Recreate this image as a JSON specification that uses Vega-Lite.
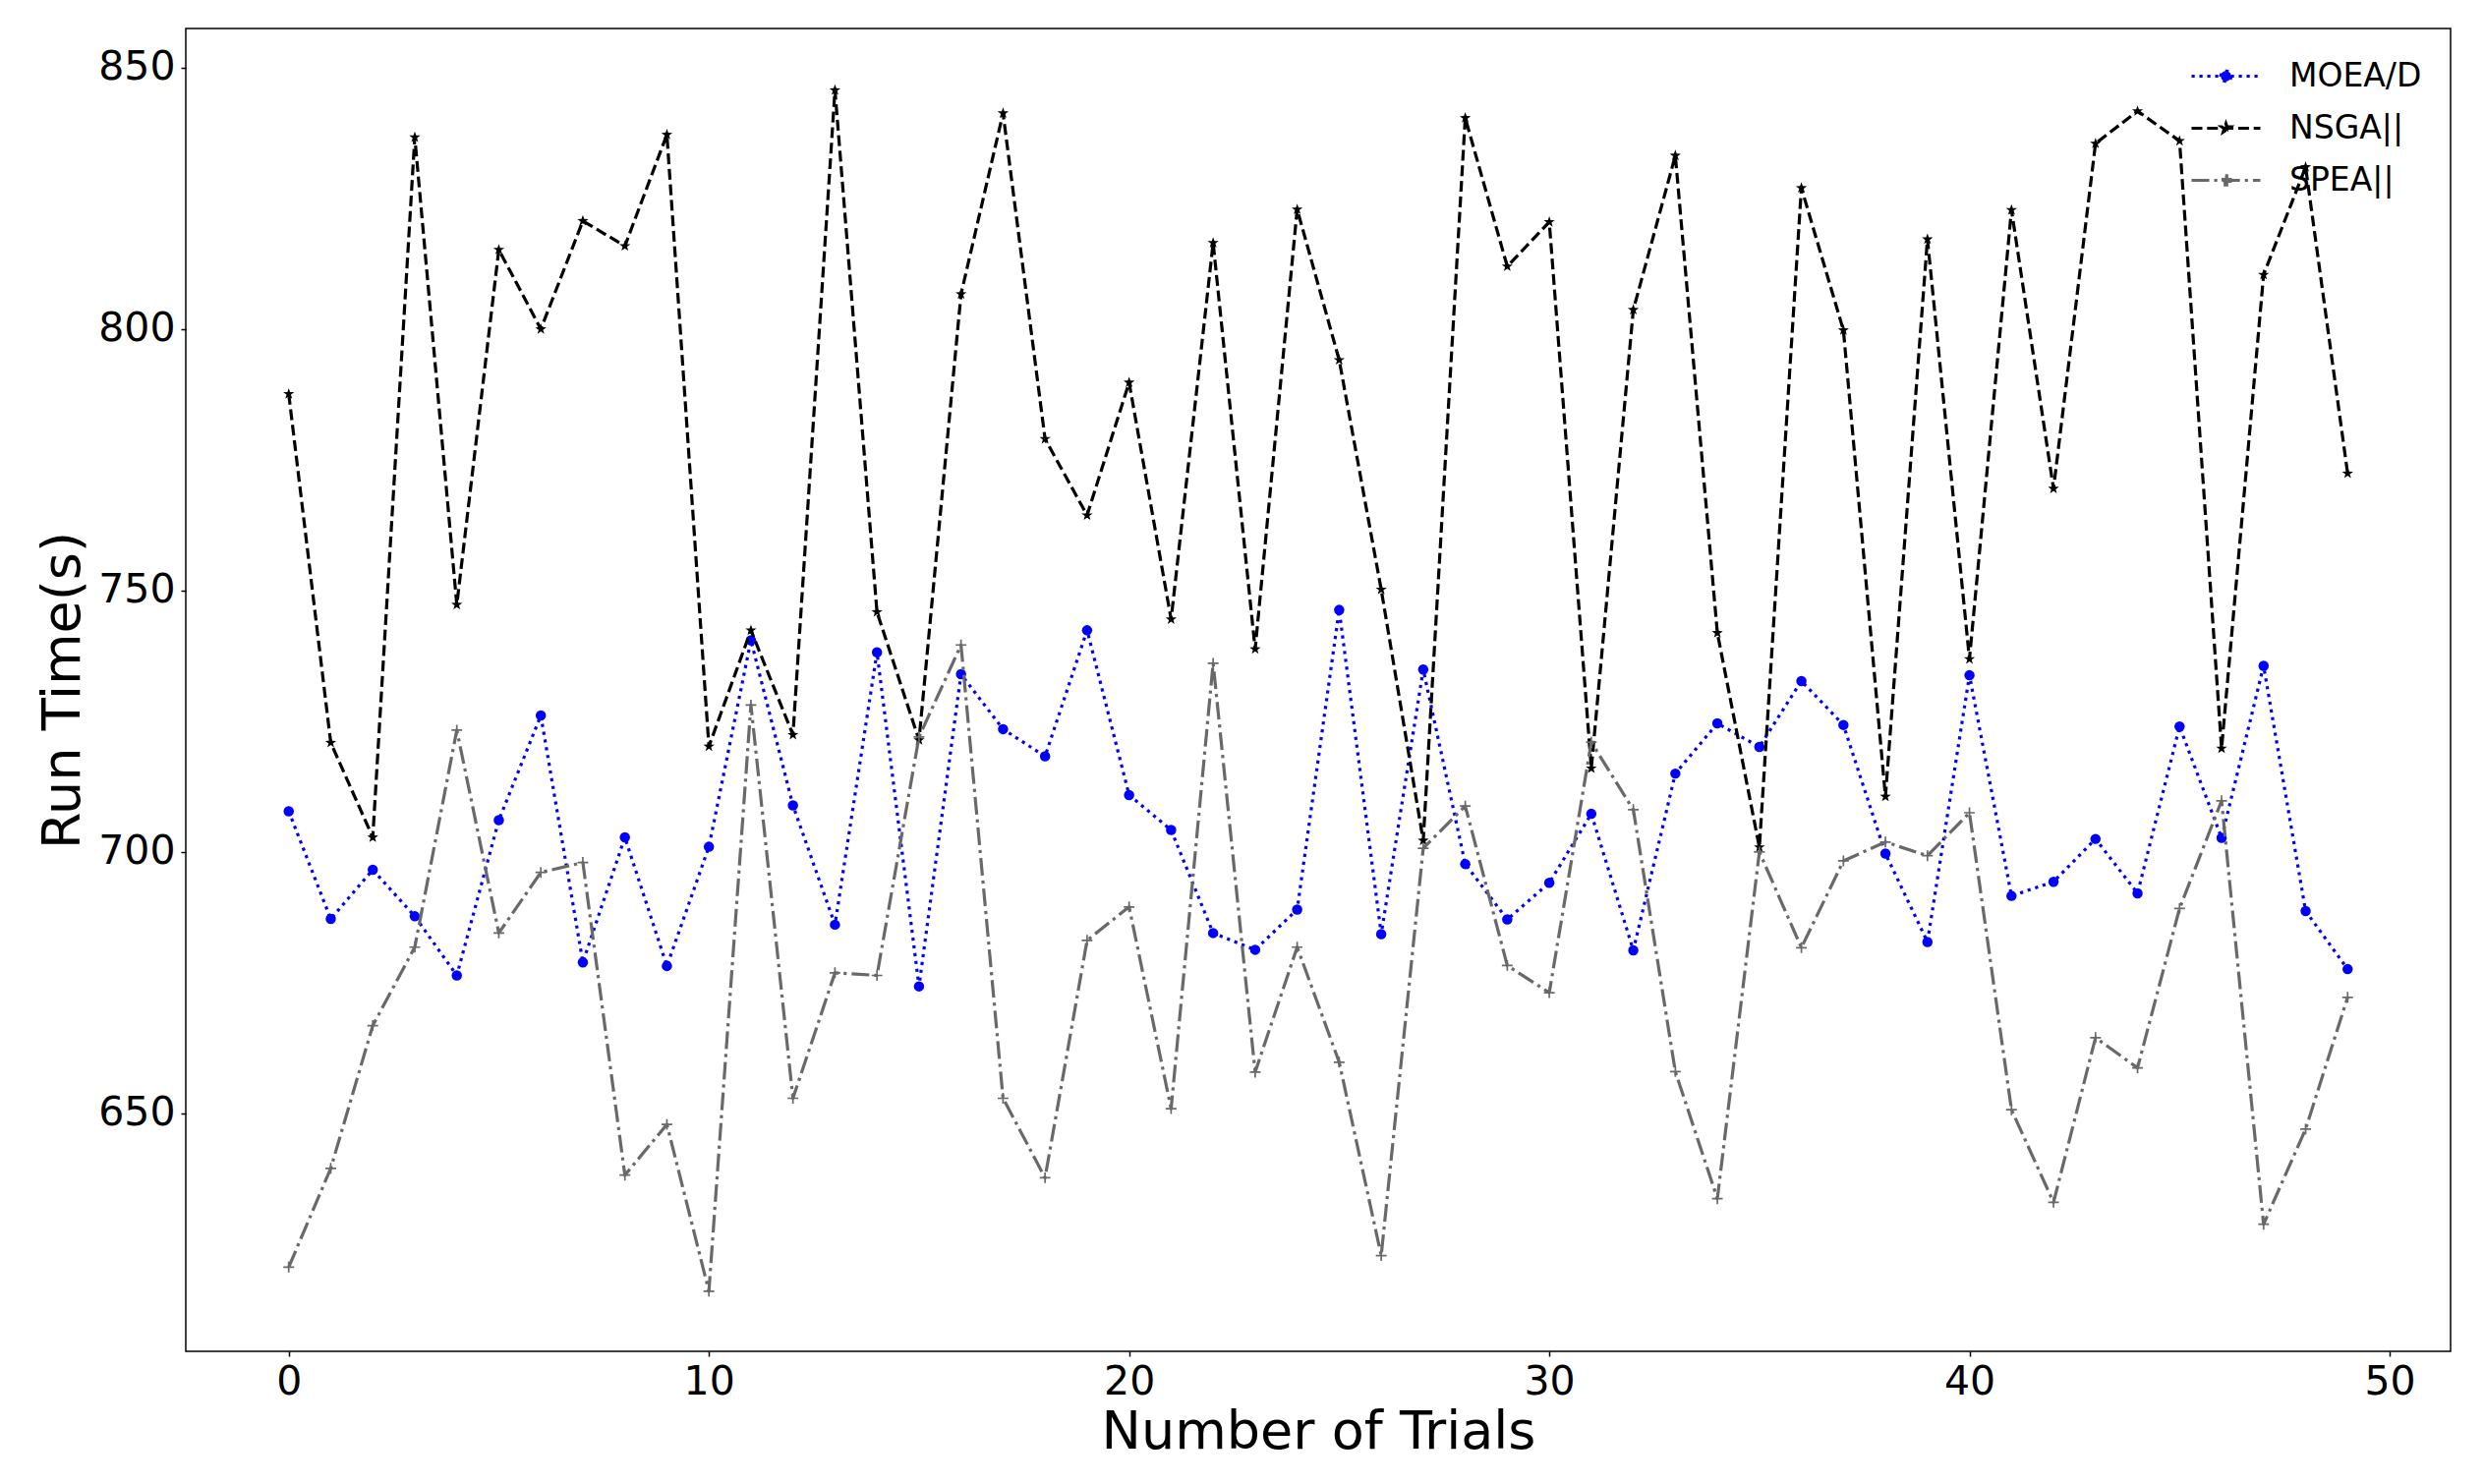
{
  "$schema": "https://vega.github.io/schema/vega-lite/v6.json",
  "width": 2304,
  "height": 1346,
  "autosize": "none",
  "padding": {"left": 189, "top": 29, "right": 34, "bottom": 135},
  "background": "white",
  "data": {"values": [
    {"trial":0,"series":"MOEA/D","time":707.8},{"trial":1,"series":"MOEA/D","time":687.2},{"trial":2,"series":"MOEA/D","time":696.6},{"trial":3,"series":"MOEA/D","time":687.7},{"trial":4,"series":"MOEA/D","time":676.4},
    {"trial":5,"series":"MOEA/D","time":706.1},{"trial":6,"series":"MOEA/D","time":726.1},{"trial":7,"series":"MOEA/D","time":678.9},{"trial":8,"series":"MOEA/D","time":702.8},{"trial":9,"series":"MOEA/D","time":678.2},
    {"trial":10,"series":"MOEA/D","time":701.0},{"trial":11,"series":"MOEA/D","time":740.5},{"trial":12,"series":"MOEA/D","time":708.9},{"trial":13,"series":"MOEA/D","time":686.1},{"trial":14,"series":"MOEA/D","time":738.2},
    {"trial":15,"series":"MOEA/D","time":674.3},{"trial":16,"series":"MOEA/D","time":734.0},{"trial":17,"series":"MOEA/D","time":723.5},{"trial":18,"series":"MOEA/D","time":718.3},{"trial":19,"series":"MOEA/D","time":742.4},
    {"trial":20,"series":"MOEA/D","time":710.9},{"trial":21,"series":"MOEA/D","time":704.2},{"trial":22,"series":"MOEA/D","time":684.5},{"trial":23,"series":"MOEA/D","time":681.3},{"trial":24,"series":"MOEA/D","time":689.0},
    {"trial":25,"series":"MOEA/D","time":746.3},{"trial":26,"series":"MOEA/D","time":684.3},{"trial":27,"series":"MOEA/D","time":734.9},{"trial":28,"series":"MOEA/D","time":697.7},{"trial":29,"series":"MOEA/D","time":687.1},
    {"trial":30,"series":"MOEA/D","time":694.1},{"trial":31,"series":"MOEA/D","time":707.3},{"trial":32,"series":"MOEA/D","time":681.2},{"trial":33,"series":"MOEA/D","time":715.0},{"trial":34,"series":"MOEA/D","time":724.6},
    {"trial":35,"series":"MOEA/D","time":720.1},{"trial":36,"series":"MOEA/D","time":732.7},{"trial":37,"series":"MOEA/D","time":724.3},{"trial":38,"series":"MOEA/D","time":699.7},{"trial":39,"series":"MOEA/D","time":682.8},
    {"trial":40,"series":"MOEA/D","time":733.8},{"trial":41,"series":"MOEA/D","time":691.6},{"trial":42,"series":"MOEA/D","time":694.3},{"trial":43,"series":"MOEA/D","time":702.5},{"trial":44,"series":"MOEA/D","time":692.1},
    {"trial":45,"series":"MOEA/D","time":724.0},{"trial":46,"series":"MOEA/D","time":702.7},{"trial":47,"series":"MOEA/D","time":735.6},{"trial":48,"series":"MOEA/D","time":688.7},{"trial":49,"series":"MOEA/D","time":677.6},
    {"trial":0,"series":"NSGA||","time":787.6},{"trial":1,"series":"NSGA||","time":720.9},{"trial":2,"series":"NSGA||","time":702.8},{"trial":3,"series":"NSGA||","time":836.7},{"trial":4,"series":"NSGA||","time":747.3},
    {"trial":5,"series":"NSGA||","time":815.2},{"trial":6,"series":"NSGA||","time":800.0},{"trial":7,"series":"NSGA||","time":820.7},{"trial":8,"series":"NSGA||","time":815.9},{"trial":9,"series":"NSGA||","time":837.2},
    {"trial":10,"series":"NSGA||","time":720.2},{"trial":11,"series":"NSGA||","time":742.4},{"trial":12,"series":"NSGA||","time":722.4},{"trial":13,"series":"NSGA||","time":845.7},{"trial":14,"series":"NSGA||","time":745.9},
    {"trial":15,"series":"NSGA||","time":721.4},{"trial":16,"series":"NSGA||","time":806.7},{"trial":17,"series":"NSGA||","time":841.3},{"trial":18,"series":"NSGA||","time":779.0},{"trial":19,"series":"NSGA||","time":764.4},
    {"trial":20,"series":"NSGA||","time":789.8},{"trial":21,"series":"NSGA||","time":744.5},{"trial":22,"series":"NSGA||","time":816.5},{"trial":23,"series":"NSGA||","time":738.8},{"trial":24,"series":"NSGA||","time":822.9},
    {"trial":25,"series":"NSGA||","time":794.1},{"trial":26,"series":"NSGA||","time":750.2},{"trial":27,"series":"NSGA||","time":702.2},{"trial":28,"series":"NSGA||","time":840.4},{"trial":29,"series":"NSGA||","time":812.0},
    {"trial":30,"series":"NSGA||","time":820.5},{"trial":31,"series":"NSGA||","time":716.0},{"trial":32,"series":"NSGA||","time":803.7},{"trial":33,"series":"NSGA||","time":833.2},{"trial":34,"series":"NSGA||","time":741.9},
    {"trial":35,"series":"NSGA||","time":700.9},{"trial":36,"series":"NSGA||","time":827.0},{"trial":37,"series":"NSGA||","time":799.8},{"trial":38,"series":"NSGA||","time":710.6},{"trial":39,"series":"NSGA||","time":817.2},
    {"trial":40,"series":"NSGA||","time":736.9},{"trial":41,"series":"NSGA||","time":822.8},{"trial":42,"series":"NSGA||","time":769.5},{"trial":43,"series":"NSGA||","time":835.5},{"trial":44,"series":"NSGA||","time":841.7},
    {"trial":45,"series":"NSGA||","time":836.0},{"trial":46,"series":"NSGA||","time":719.8},{"trial":47,"series":"NSGA||","time":810.4},{"trial":48,"series":"NSGA||","time":831.0},{"trial":49,"series":"NSGA||","time":772.4},
    {"trial":0,"series":"SPEA||","time":620.6},{"trial":1,"series":"SPEA||","time":639.5},{"trial":2,"series":"SPEA||","time":666.8},{"trial":3,"series":"SPEA||","time":681.8},{"trial":4,"series":"SPEA||","time":723.3},
    {"trial":5,"series":"SPEA||","time":684.5},{"trial":6,"series":"SPEA||","time":696.1},{"trial":7,"series":"SPEA||","time":698.0},{"trial":8,"series":"SPEA||","time":638.2},{"trial":9,"series":"SPEA||","time":647.9},
    {"trial":10,"series":"SPEA||","time":616.0},{"trial":11,"series":"SPEA||","time":728.1},{"trial":12,"series":"SPEA||","time":652.9},{"trial":13,"series":"SPEA||","time":676.9},{"trial":14,"series":"SPEA||","time":676.4},
    {"trial":15,"series":"SPEA||","time":722.0},{"trial":16,"series":"SPEA||","time":739.6},{"trial":17,"series":"SPEA||","time":652.9},{"trial":18,"series":"SPEA||","time":637.7},{"trial":19,"series":"SPEA||","time":683.1},
    {"trial":20,"series":"SPEA||","time":689.5},{"trial":21,"series":"SPEA||","time":650.9},{"trial":22,"series":"SPEA||","time":736.1},{"trial":23,"series":"SPEA||","time":657.9},{"trial":24,"series":"SPEA||","time":681.8},
    {"trial":25,"series":"SPEA||","time":659.8},{"trial":26,"series":"SPEA||","time":622.8},{"trial":27,"series":"SPEA||","time":700.7},{"trial":28,"series":"SPEA||","time":708.8},{"trial":29,"series":"SPEA||","time":678.3},
    {"trial":30,"series":"SPEA||","time":673.1},{"trial":31,"series":"SPEA||","time":721.0},{"trial":32,"series":"SPEA||","time":708.1},{"trial":33,"series":"SPEA||","time":658.0},{"trial":34,"series":"SPEA||","time":633.7},
    {"trial":35,"series":"SPEA||","time":700.0},{"trial":36,"series":"SPEA||","time":681.7},{"trial":37,"series":"SPEA||","time":698.3},{"trial":38,"series":"SPEA||","time":701.9},{"trial":39,"series":"SPEA||","time":699.3},
    {"trial":40,"series":"SPEA||","time":707.5},{"trial":41,"series":"SPEA||","time":650.7},{"trial":42,"series":"SPEA||","time":633.0},{"trial":43,"series":"SPEA||","time":664.5},{"trial":44,"series":"SPEA||","time":658.7},
    {"trial":45,"series":"SPEA||","time":689.2},{"trial":46,"series":"SPEA||","time":709.8},{"trial":47,"series":"SPEA||","time":628.8},{"trial":48,"series":"SPEA||","time":647.0},{"trial":49,"series":"SPEA||","time":672.2}
  ]},
  "encoding": {
    "x": {"field": "trial", "type": "quantitative",
      "scale": {"domain": [-2.45, 51.45], "nice": false, "zero": false},
      "axis": {"title": "Number of Trials", "values": [0, 10, 20, 30, 40, 50], "grid": false, "domain": false,
        "tickColor": "#000", "tickSize": 5, "tickWidth": 1.5, "labelFontSize": 41, "labelColor": "#000", "labelPadding": 6,
        "labelFont": "DejaVu Sans", "titleFont": "DejaVu Sans", "titleFontSize": 54, "titleFontWeight": "normal", "titleColor": "#000", "titlePadding": 4}},
    "y": {"field": "time", "type": "quantitative",
      "scale": {"domain": [604.5, 857.5], "nice": false, "zero": false},
      "axis": {"title": "Run Time(s)", "values": [650, 700, 750, 800, 850], "grid": false, "domain": false,
        "tickColor": "#000", "tickSize": 5, "tickWidth": 1.5, "labelFontSize": 41, "labelColor": "#000", "labelPadding": 6,
        "labelFont": "DejaVu Sans", "titleFont": "DejaVu Sans", "titleFontSize": 54, "titleFontWeight": "normal", "titleColor": "#000", "titlePadding": 8}}
  },
  "layer": [
    {"transform": [{"filter": "datum.series === 'MOEA/D'"}],
     "mark": {"type": "line", "color": "#0000ff", "strokeWidth": 3.2, "strokeDash": [3.2, 4.8], "strokeCap": "butt", "strokeJoin": "round"}},
    {"transform": [{"filter": "datum.series === 'MOEA/D'"}],
     "mark": {"type": "point", "shape": "circle", "filled": true, "color": "#0000ff", "size": 110, "opacity": 1}},
    {"transform": [{"filter": "datum.series === 'NSGA||'"}],
     "mark": {"type": "line", "color": "#000000", "strokeWidth": 3.2, "strokeDash": [11, 4.8], "strokeCap": "butt", "strokeJoin": "round"}},
    {"transform": [{"filter": "datum.series === 'NSGA||'"}],
     "mark": {"type": "point", "shape": "M0,-1L0.235,-0.324L0.951,-0.309L0.380,0.124L0.588,0.809L0,0.4L-0.588,0.809L-0.380,0.124L-0.951,-0.309L-0.235,-0.324Z", "filled": true, "color": "#000000", "size": 140, "opacity": 1}},
    {"transform": [{"filter": "datum.series === 'SPEA||'"}],
     "mark": {"type": "line", "color": "#696969", "strokeWidth": 3.2, "strokeDash": [18, 5, 3.2, 5], "strokeCap": "butt", "strokeJoin": "round"}},
    {"transform": [{"filter": "datum.series === 'SPEA||'"}],
     "mark": {"type": "point", "shape": "M-1,0H1M0,-1V1", "filled": false, "color": "#696969", "strokeWidth": 1.7, "size": 120, "opacity": 1}},
    {"mark": {"type": "point", "filled": true, "opacity": 0, "strokeWidth": 3.2},
     "encoding": {
       "fill": {"field": "series", "type": "nominal",
         "scale": {"domain": ["MOEA/D", "NSGA||", "SPEA||"], "range": ["#0000ff", "#000000", "#696969"]},
         "legend": {"title": null, "orient": "top-right", "offset": 29, "padding": 0, "rowPadding": 16, "labelOffset": 45,
           "symbolSize": 1225, "symbolStrokeWidth": 3.2, "symbolOpacity": 1, "labelFontSize": 33, "labelFont": "DejaVu Sans", "labelColor": "#000", "labelLimit": 400}},
       "stroke": {"field": "series", "type": "nominal",
         "scale": {"domain": ["MOEA/D", "NSGA||", "SPEA||"], "range": ["#0000ff", "#000000", "#696969"]},
         "legend": {"title": null, "orient": "top-right", "offset": 29, "padding": 0, "rowPadding": 16, "labelOffset": 45,
           "symbolSize": 1225, "symbolStrokeWidth": 3.2, "symbolOpacity": 1, "labelFontSize": 33, "labelFont": "DejaVu Sans", "labelColor": "#000", "labelLimit": 400}},
       "shape": {"field": "series", "type": "nominal",
         "scale": {"domain": ["MOEA/D", "NSGA||", "SPEA||"], "range": [
           "M-2,0H2M0.3,0A0.3,0.3,0,1,1,-0.3,0A0.3,0.3,0,1,1,0.3,0Z",
           "M-2,0H2M0,-0.26L0.0611,-0.0842L0.2473,-0.0803L0.0988,0.0322L0.1529,0.2103L0,0.104L-0.1529,0.2103L-0.0988,0.0322L-0.2473,-0.0803L-0.0611,-0.0842Z",
           "M-2,0H2M-0.26,-0.045H0.26V0.045H-0.26ZM-0.045,-0.26H0.045V0.26H-0.045Z"]},
         "legend": {"title": null, "orient": "top-right", "offset": 29, "padding": 0, "rowPadding": 16, "labelOffset": 45,
           "symbolSize": 1225, "symbolStrokeWidth": 3.2, "symbolOpacity": 1, "labelFontSize": 33, "labelFont": "DejaVu Sans", "labelColor": "#000", "labelLimit": 400}},
       "strokeDash": {"field": "series", "type": "nominal",
         "scale": {"domain": ["MOEA/D", "NSGA||", "SPEA||"], "range": [[3.2, 4.8], [11, 4.8], [18, 5, 3.2, 5]]},
         "legend": {"title": null, "orient": "top-right", "offset": 29, "padding": 0, "rowPadding": 16, "labelOffset": 45,
           "symbolSize": 1225, "symbolStrokeWidth": 3.2, "symbolOpacity": 1, "labelFontSize": 33, "labelFont": "DejaVu Sans", "labelColor": "#000", "labelLimit": 400}}
     }}
  ],
  "config": {
    "view": {"stroke": "#000000", "strokeWidth": 1.5},
    "font": "DejaVu Sans"
  }
}
